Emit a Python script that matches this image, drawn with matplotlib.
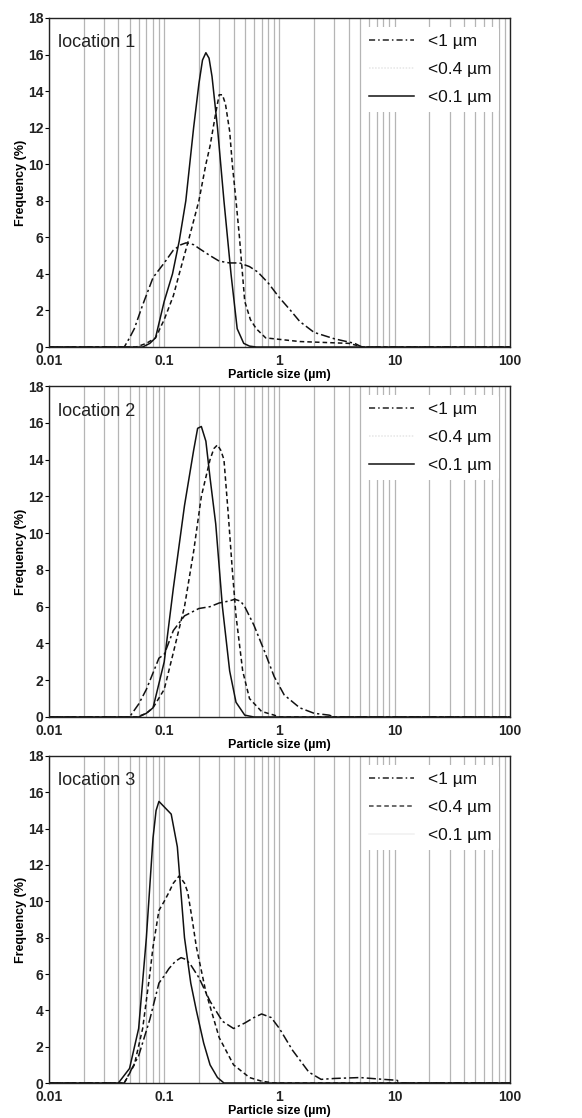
import numpy as np
import matplotlib
matplotlib.use("Agg")
import matplotlib.pyplot as plt
import matplotlib.ticker as mticker

plt.rcParams["font.family"] = ["Liberation Sans", "DejaVu Sans"]

# ── Data ──────────────────────────────────────────────────────────────────────
LABELS = ["<1 µm", "<0.4 µm", "<0.1 µm"]

# location 1
loc1_x_1 = [0.01, 0.045, 0.05, 0.055, 0.065, 0.08, 0.1, 0.12, 0.14, 0.155, 0.18, 0.2,
            0.25, 0.3, 0.37, 0.45, 0.55, 0.65, 0.8, 1.0, 1.25, 1.5, 2.0, 3.0, 4.5, 5.2, 100]
loc1_y_1 = [0, 0, 0.5, 1.0, 2.3, 3.8, 4.6, 5.3, 5.6, 5.7, 5.6, 5.4,
            5.0, 4.7, 4.6, 4.6, 4.4, 4.1, 3.5, 2.7, 2.0, 1.4, 0.8, 0.45, 0.2, 0, 0]
loc1_x_04 = [0.01, 0.057, 0.07, 0.084, 0.1, 0.12, 0.135, 0.165, 0.2, 0.23, 0.25, 0.28,
             0.30, 0.32, 0.34, 0.37, 0.39, 0.42, 0.45, 0.5, 0.56, 0.63, 0.76, 1.5, 4.0,
             5.3, 100]
loc1_y_04 = [0, 0, 0.2, 0.5, 1.5, 2.8, 4.0, 6.0, 8.0, 10.0, 11.0, 12.8,
             13.8, 13.8, 13.3, 11.8, 10.0, 8.0, 6.0, 2.5, 1.5, 1.0, 0.5, 0.3, 0.2,
             0, 0]
loc1_x_01 = [0.01, 0.065, 0.075, 0.084, 0.1, 0.118, 0.135, 0.154, 0.18, 0.2, 0.215,
             0.23, 0.245, 0.26, 0.29, 0.33, 0.38, 0.43, 0.49, 0.55, 0.63, 100]
loc1_y_01 = [0, 0, 0.2, 0.5, 2.5, 4.0, 5.8, 8.0, 12.0, 14.4, 15.7,
             16.1, 15.8, 14.8, 12.0, 8.0, 4.0, 1.0, 0.2, 0.05, 0, 0]

# location 2
loc2_x_1 = [0.01, 0.05, 0.06, 0.07, 0.08, 0.09, 0.1, 0.12, 0.15, 0.2, 0.25, 0.3,
            0.36, 0.41, 0.46, 0.5, 0.6, 0.75, 0.9, 1.1, 1.5, 2.0, 2.7, 3.0, 100]
loc2_y_1 = [0, 0, 0.7, 1.5, 2.4, 3.2, 3.4, 4.7, 5.5, 5.9, 6.0, 6.2,
            6.3, 6.4, 6.3, 6.0, 5.0, 3.5, 2.2, 1.2, 0.5, 0.2, 0.1, 0, 0]
loc2_x_04 = [0.01, 0.058, 0.07, 0.08, 0.1, 0.12, 0.15, 0.18, 0.21, 0.25, 0.27, 0.29,
             0.31, 0.33, 0.36, 0.39, 0.42, 0.48, 0.55, 0.7, 0.9, 1.0, 100]
loc2_y_04 = [0, 0, 0.2, 0.5, 1.5, 3.5, 6.0, 9.0, 12.0, 14.0, 14.6, 14.8,
             14.5, 14.0, 11.0, 8.0, 5.5, 2.5, 1.0, 0.3, 0.1, 0, 0]
loc2_x_01 = [0.01, 0.06, 0.07, 0.08, 0.1, 0.12, 0.15, 0.18, 0.195, 0.21, 0.23, 0.25,
             0.28, 0.32, 0.37, 0.42, 0.5, 0.6, 100]
loc2_y_01 = [0, 0, 0.2, 0.5, 3.0, 7.0, 11.5, 14.5, 15.7, 15.8, 15.0, 13.0,
             10.5, 6.0, 2.5, 0.8, 0.1, 0, 0]

# location 3
loc3_x_1 = [0.01, 0.045, 0.06, 0.075, 0.09, 0.1, 0.11, 0.125, 0.14, 0.155, 0.17, 0.2,
            0.25, 0.32, 0.4, 0.5, 0.6, 0.7, 0.85, 1.0, 1.3, 1.8, 2.3, 3.0, 5.0, 8.0,
            10.5, 11.0, 100]
loc3_y_1 = [0, 0, 1.5, 3.5, 5.5, 5.9, 6.3, 6.7, 6.9, 6.8, 6.5, 5.8,
            4.5, 3.4, 3.0, 3.3, 3.6, 3.8, 3.6, 3.0, 1.8, 0.6, 0.2, 0.25, 0.3, 0.2,
            0.15, 0, 0]
loc3_x_04 = [0.01, 0.045, 0.055, 0.065, 0.075, 0.08, 0.09, 0.1, 0.11, 0.12, 0.135,
             0.15, 0.16, 0.175, 0.19, 0.23, 0.3, 0.4, 0.55, 0.7, 0.9, 100]
loc3_y_04 = [0, 0, 1.0, 3.0, 6.0, 7.5, 9.5, 10.0, 10.5, 11.0, 11.4,
             11.0, 10.5, 9.0, 7.5, 5.0, 2.5, 1.0, 0.3, 0.1, 0, 0]
loc3_x_01 = [0.01, 0.04, 0.05, 0.06, 0.07, 0.08, 0.085, 0.09, 0.1, 0.115, 0.13, 0.15,
             0.17, 0.19, 0.22, 0.25, 0.29, 0.33, 100]
loc3_y_01 = [0, 0, 0.8, 3.0, 8.0, 13.5, 15.0, 15.5, 15.2, 14.8, 13.0, 8.0,
             5.5, 4.0, 2.2, 1.0, 0.3, 0, 0]

PANELS = [
    ("location 1", [(loc1_x_1, loc1_y_1), (loc1_x_04, loc1_y_04), (loc1_x_01, loc1_y_01)]),
    ("location 2", [(loc2_x_1, loc2_y_1), (loc2_x_04, loc2_y_04), (loc2_x_01, loc2_y_01)]),
    ("location 3", [(loc3_x_1, loc3_y_1), (loc3_x_04, loc3_y_04), (loc3_x_01, loc3_y_01)]),
]

# ── Styles ────────────────────────────────────────────────────────────────────
STYLES = [(0, (6, 2, 1.5, 2)), (0, (3, 2)), "-"]
# legend handles in the original are oddly faded in places
LEG_STYLES = [
    [("#222222", (0, (4, 2, 1, 2))), ("#e6e6e6", (0, (1, 1))), ("#111111", "-")],
    [("#222222", (0, (4, 2, 1, 2))), ("#e6e6e6", (0, (1, 1))), ("#111111", "-")],
    [("#222222", (0, (4, 2, 1, 2))), ("#444444", (0, (3, 2))), ("#f0f0f0", "-")],
]
AX_RECTS = [
    (0.0842, 0.6896, 0.7918, 0.2943),
    (0.0842, 0.3587, 0.7918, 0.2960),
    (0.0842, 0.0313, 0.7918, 0.2925),
]

fig = plt.figure(figsize=(5.82, 11.18), dpi=100)
fig.patch.set_facecolor("white")

for (name, series), rect, leg in zip(PANELS, AX_RECTS, LEG_STYLES):
    ax = fig.add_axes(rect)
    ax.set_xscale("log")
    ax.set_xlim(0.01, 100)
    ax.set_ylim(0, 18)

    for (x, y), ls in zip(series, STYLES):
        ax.plot(x, y, color="#111111", lw=1.1, ls=ls, solid_joinstyle="round")

    ax.xaxis.set_major_locator(mticker.FixedLocator([0.01, 0.1, 1, 10, 100]))
    ax.xaxis.set_major_formatter(mticker.FuncFormatter(lambda v, _: f"{v:g}"))
    ax.xaxis.set_minor_locator(mticker.LogLocator(base=10, subs=np.arange(2, 10)))
    ax.xaxis.set_minor_formatter(mticker.NullFormatter())
    ax.set_yticks(np.arange(0, 19, 2))
    ax.grid(axis="x", which="both", color="#b5b5b5", lw=0.9)
    ax.set_axisbelow(True)
    ax.tick_params(axis="x", which="both", length=0, pad=5, labelsize=10)
    ax.tick_params(axis="y", length=3, pad=1, labelsize=10)
    for lab in ax.get_xticklabels() + ax.get_yticklabels():
        lab.set_fontweight("bold")
        lab.set_color("#222222")
    for sp in ax.spines.values():
        sp.set_linewidth(1.0)
        sp.set_color("#222222")

    ax.set_xlabel("Particle size (µm)", fontsize=9, fontweight="bold", labelpad=1)
    ax.set_ylabel("Frequency (%)", fontsize=9, fontweight="bold", labelpad=1)
    ax.text(0.02, 0.95, name, transform=ax.transAxes, fontsize=13,
            va="top", ha="left", color="#222222")

    handles = [plt.Line2D([], [], color=c, lw=1.1, ls=s) for c, s in leg]
    lg = ax.legend(handles, LABELS, loc="upper right", frameon=True,
                   facecolor="white", edgecolor="none", framealpha=1,
                   fontsize=12.5, handlelength=2.6, labelspacing=0.75,
                   borderpad=0.4, bbox_to_anchor=(0.995, 1.0))
    for t in lg.get_texts():
        t.set_color("#111111")

fig.savefig("out.png", dpi=100, facecolor="white")
